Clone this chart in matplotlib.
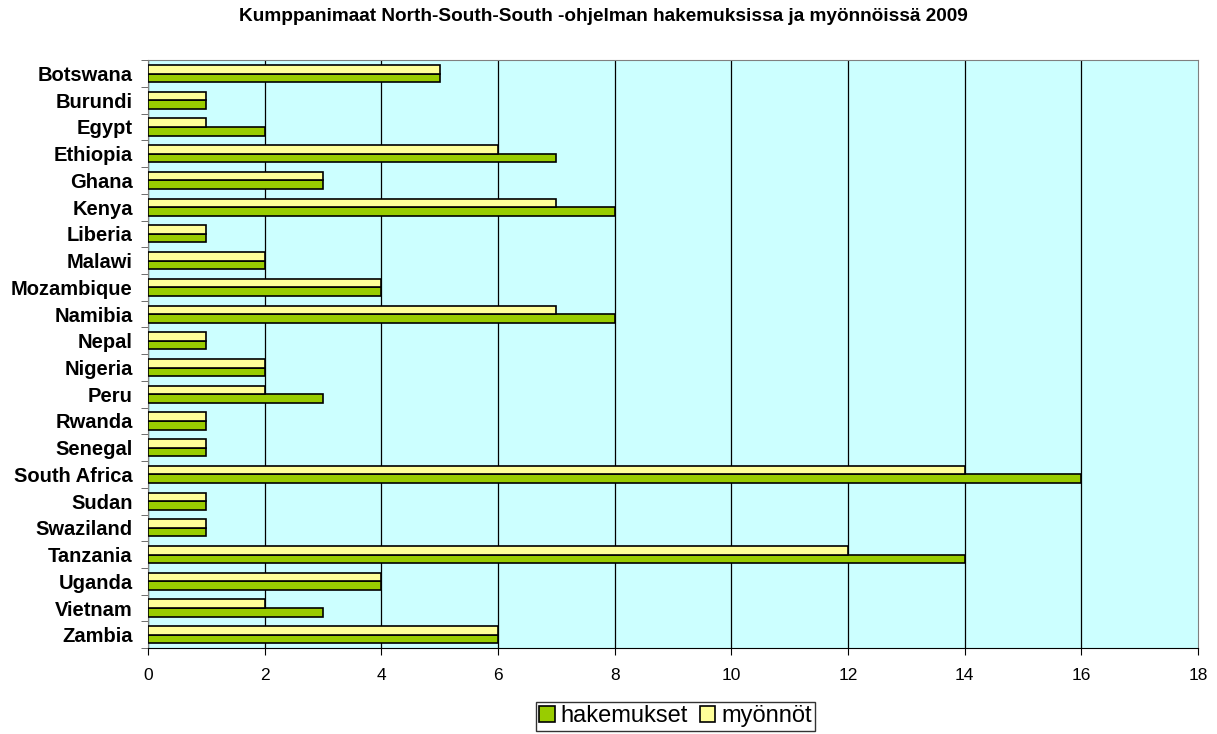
import numpy as np
import matplotlib.pyplot as plt

plt.rcParams["font.family"] = ["Liberation Sans", "DejaVu Sans"]

countries = ["Botswana", "Burundi", "Egypt", "Ethiopia", "Ghana", "Kenya", "Liberia",
             "Malawi", "Mozambique", "Namibia", "Nepal", "Nigeria", "Peru", "Rwanda",
             "Senegal", "South Africa", "Sudan", "Swaziland", "Tanzania", "Uganda",
             "Vietnam", "Zambia"]
hakemukset = [5, 1, 2, 7, 3, 8, 1, 2, 4, 8, 1, 2, 3, 1, 1, 16, 1, 1, 14, 4, 3, 6]
myonnot = [5, 1, 1, 6, 3, 7, 1, 2, 4, 7, 1, 2, 2, 1, 1, 14, 1, 1, 12, 4, 2, 6]

fig = plt.figure(figsize=(12.17, 7.34), dpi=100)
ax = fig.add_axes([0.1216, 0.117, 0.8628, 0.801])
ax.set_facecolor("#CCFFFF")

y = np.arange(len(countries))
h = 0.32
ax.barh(y + h / 2, hakemukset, height=h, color="#99CC00", edgecolor="black",
        linewidth=1.2, label="hakemukset", zorder=3)
ax.barh(y - h / 2, myonnot, height=h, color="#FFFF99", edgecolor="black",
        linewidth=1.2, label="myönnöt", zorder=3)

ax.set_ylim(len(countries) - 0.5, -0.5)
ax.set_yticks(y)
ax.set_yticklabels(countries, fontsize=14.5, fontweight="bold")
ax.set_yticks(np.arange(len(countries) + 1) - 0.5, minor=True)
ax.tick_params(axis="y", which="major", length=0, pad=11)
ax.tick_params(axis="y", which="minor", length=5, color="#555555")

ax.set_xlim(0, 18)
ax.set_xticks(range(0, 19, 2))
ax.tick_params(axis="x", labelsize=12.5, length=5, pad=9)
ax.grid(axis="x", color="black", linewidth=0.9, zorder=1)
ax.get_xgridlines()[-1].set_visible(False)

for s in ["left", "top", "right"]:
    ax.spines[s].set_color("#808080")
ax.spines["bottom"].set_color("black")

fig.text(0.4955, 0.977, "Kumppanimaat North-South-South -ohjelman hakemuksissa ja myönnöissä 2009",
         fontsize=13.7, fontweight="bold", ha="center", va="center")

leg = fig.legend(loc="center", bbox_to_anchor=(0.555, 0.024), ncol=2, fontsize=17,
                 frameon=True, fancybox=False, edgecolor="black", handlelength=0.65,
                 handleheight=0.65, handletextpad=0.25, columnspacing=0.5,
                 borderpad=0.15, borderaxespad=0)
leg.get_frame().set_linewidth(1.0)

plt.savefig("out.png", dpi=100)
plt.close()
